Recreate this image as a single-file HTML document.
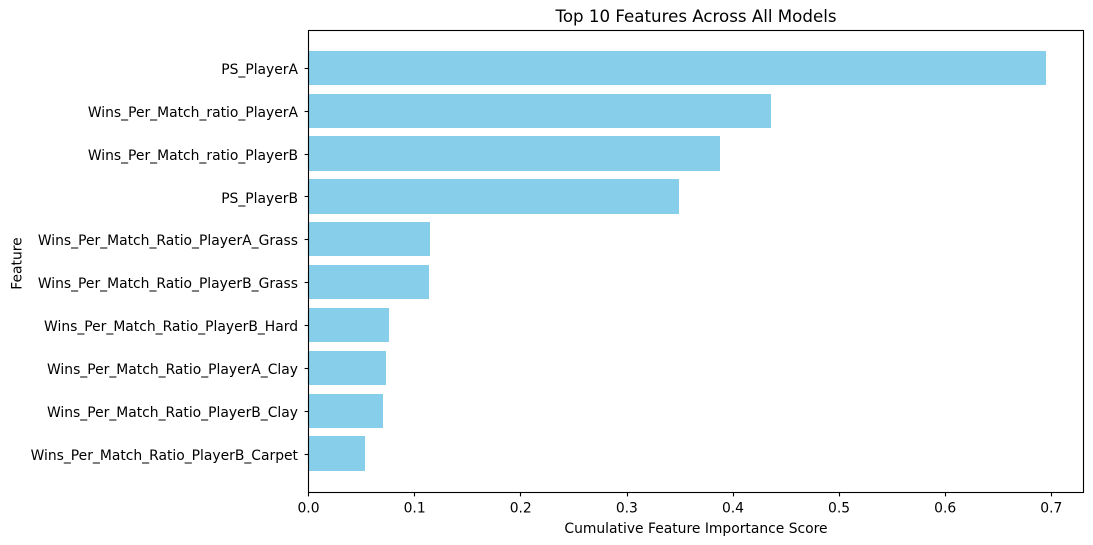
<!DOCTYPE html>
<html lang="en">
<head>
<meta charset="utf-8">
<title>Top 10 Features Across All Models</title>
<style>
html,body{margin:0;padding:0;background:#fff;}
svg{display:block;}
text{font-family:"DejaVu Sans",sans-serif;fill:#000;}
</style>
</head>
<body>
<svg id="chart" xmlns="http://www.w3.org/2000/svg" width="1093" height="545" viewBox="0 0 1093 545"></svg>
<script>
const features = [
  "PS_PlayerA",
  "Wins_Per_Match_ratio_PlayerA",
  "Wins_Per_Match_ratio_PlayerB",
  "PS_PlayerB",
  "Wins_Per_Match_Ratio_PlayerA_Grass",
  "Wins_Per_Match_Ratio_PlayerB_Grass",
  "Wins_Per_Match_Ratio_PlayerB_Hard",
  "Wins_Per_Match_Ratio_PlayerA_Clay",
  "Wins_Per_Match_Ratio_PlayerB_Clay",
  "Wins_Per_Match_Ratio_PlayerB_Carpet"
];
const scores = [0.6952, 0.4361, 0.3880, 0.3494, 0.1147, 0.1138, 0.0761, 0.0733, 0.0705, 0.0535];
const xTickValues = [0, 0.1, 0.2, 0.3, 0.4, 0.5, 0.6, 0.7];
const xTickLabels = ["0.0", "0.1", "0.2", "0.3", "0.4", "0.5", "0.6", "0.7"];
const chartTitle = "Top 10 Features Across All Models";
const xAxisTitle = "Cumulative Feature Importance Score";
const yAxisTitle = "Feature";

const svg = document.getElementById('chart');
const NS = 'http://www.w3.org/2000/svg';
const plotLeft = 308.5, plotRight = 1083.5, plotTop = 30.5, plotBottom = 492.5;
const xOrigin = 308.2, xUnit = 1061.2;
const bandStart = 67.8, band = 42.87, barFrac = 0.8;
function xScale(v) { return xOrigin + v * xUnit; }
function yScale(i) { return bandStart + i * band; }
function make(tag, attrs, text) {
  const el = document.createElementNS(NS, tag);
  for (const k in attrs) el.setAttribute(k, attrs[k]);
  if (text !== undefined) el.textContent = text;
  svg.appendChild(el);
  return el;
}

features.forEach(function (name, i) {
  const half = band * barFrac / 2;
  const top = Math.round(yScale(i) - half);
  const bottom = Math.round(yScale(i) + half);
  const right = Math.round(xScale(scores[i]));
  const bar = make('rect', {x: 308, y: top, width: Math.max(0, right - 308), height: bottom - top, fill: '#87ceeb'});
  
  
});

features.forEach(function (name, i) {
  const y = Math.round(yScale(i)) + 0.5;
  const tick = make('line', {x1: 304.6, x2: 308.5, y1: y, y2: y, stroke: '#000', 'stroke-width': 1.11});
  
  
  const label = make('text', {x: 298, y: Math.round(yScale(i) + 0.15) + 6, 'text-anchor': 'end', 'font-size': 13.89}, name);
  
  
});

xTickValues.forEach(function (v, i) {
  const x = Math.round(xScale(v)) + 0.5;
  const tick = make('line', {x1: x, x2: x, y1: 492.5, y2: 496.4, stroke: '#000', 'stroke-width': 1.11});
  
  
  const label = make('text', {x: xScale(v) + 0.3, y: 512.6, 'text-anchor': 'middle', 'font-size': 13.89}, xTickLabels[i]);
  
  
});

const frame = make('rect', {x: plotLeft, y: plotTop, width: plotRight - plotLeft, height: plotBottom - plotTop, fill: 'none', stroke: '#000', 'stroke-width': 1.11});



const titleEl = make('text', {x: 696, y: 22, 'text-anchor': 'middle', 'font-size': 16.67}, chartTitle);



const xTitle = make('text', {x: 696, y: 533, 'text-anchor': 'middle', 'font-size': 13.89}, xAxisTitle);



const yTitle = make('text', {x: 0, y: 0, 'text-anchor': 'middle', 'font-size': 13.89, transform: 'translate(21.5 263.5) rotate(-90)'}, yAxisTitle);


</script>
</body>
</html>
